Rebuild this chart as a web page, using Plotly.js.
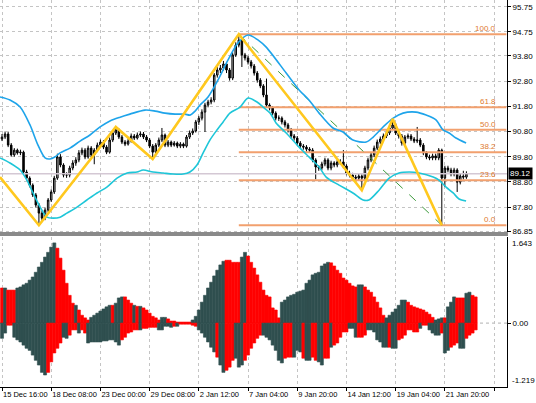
<!DOCTYPE html>
<html><head><meta charset="utf-8">
<script src="https://cdn.plot.ly/plotly-3.0.1.min.js"></script>
<style>html,body{margin:0;padding:0;background:#fff}#c{width:536px;height:403px}</style>
</head><body><div id="c"></div>
<script>
// ---- price candles (H4 bars, index 0 = 15 Dec 16:00) ----
var opens = [90.50,90.58,90.70,90.26,89.87,90.06,89.95,89.98,89.19,88.95,
88.67,88.28,87.88,87.56,87.36,87.68,88.08,88.40,88.95,89.79,
89.47,89.07,89.07,89.35,89.55,89.67,89.95,90.06,89.79,90.14,
89.87,90.06,90.26,90.38,90.18,89.98,90.46,90.74,90.86,90.58,
90.38,90.30,90.42,90.62,90.54,90.66,90.70,90.58,90.46,90.22,
89.98,90.26,90.46,90.66,90.26,90.38,90.26,90.34,90.22,90.30,
90.22,90.58,90.74,90.82,91.18,91.33,91.57,91.85,91.97,92.05,
93.04,93.24,93.32,93.48,93.24,92.92,93.84,94.23,94.43,93.84,
93.72,93.56,93.40,93.12,92.84,92.61,92.25,91.85,91.73,91.53,
91.33,91.33,91.18,91.06,90.86,90.62,90.54,90.34,90.22,90.18,
90.10,90.06,89.67,89.39,89.35,89.51,89.67,89.35,89.55,89.47,
89.59,89.59,89.43,89.15,89.07,88.99,88.95,89.03,88.95,89.35,
89.67,89.87,90.14,90.38,90.50,90.62,90.74,90.94,91.06,90.74,
90.62,90.34,90.58,90.62,90.50,90.42,90.46,90.26,89.95,89.79,
89.75,89.83,89.75,90.06,88.95,89.35,89.27,89.11,89.27,88.79,
89.03,88.99];
var closes = [90.58,90.70,90.26,89.87,90.06,89.95,89.98,89.19,88.95,88.67,
88.28,87.88,87.56,87.36,87.68,88.08,88.40,88.95,89.79,89.47,
89.07,89.07,89.35,89.55,89.67,89.95,90.06,89.79,90.14,89.87,
90.06,90.26,90.38,90.18,89.98,90.46,90.74,90.86,90.58,90.38,
90.30,90.42,90.62,90.54,90.66,90.70,90.58,90.46,90.22,89.98,
90.26,90.46,90.66,90.26,90.38,90.26,90.34,90.22,90.30,90.22,
90.58,90.74,90.82,91.18,91.33,91.57,91.85,91.97,92.05,93.04,
93.24,93.32,93.48,93.24,92.92,93.84,94.23,94.43,93.84,93.72,
93.56,93.40,93.12,92.84,92.61,92.25,91.85,91.73,91.53,91.33,
91.33,91.18,91.06,90.86,90.62,90.54,90.34,90.22,90.18,90.10,
90.06,89.67,89.39,89.35,89.51,89.67,89.35,89.55,89.47,89.59,
89.59,89.43,89.15,89.07,88.99,88.95,89.03,88.95,89.35,89.67,
89.87,90.14,90.38,90.50,90.62,90.74,90.94,91.06,90.74,90.62,
90.34,90.58,90.62,90.50,90.42,90.46,90.26,89.95,89.79,89.75,
89.83,89.75,90.06,88.95,89.35,89.27,89.11,89.27,88.79,89.03,
88.99,89.12];
var highs = [90.70,90.80,90.78,90.34,90.14,90.12,90.08,90.04,89.28,89.02,
88.74,88.36,87.96,87.66,87.78,88.16,88.50,89.04,89.92,89.90,
89.54,89.18,89.44,89.66,89.78,90.06,90.16,90.14,90.24,90.22,
90.14,90.36,90.48,90.46,90.26,90.56,90.84,90.98,90.92,90.66,
90.46,90.52,90.72,90.70,90.76,90.80,90.78,90.66,90.54,90.30,
90.34,90.56,90.94,90.72,90.46,90.44,90.42,90.40,90.38,90.36,
90.66,90.84,90.92,91.26,91.42,91.68,91.94,92.06,92.16,93.12,
93.36,93.44,93.60,93.56,93.32,93.94,94.34,94.66,94.50,93.92,
93.80,93.64,93.48,93.20,92.92,92.68,92.90,91.92,91.80,91.60,
91.44,91.40,91.26,91.14,90.94,90.70,90.62,90.42,90.30,90.26,
90.18,90.14,89.74,89.46,89.60,89.76,89.74,89.64,89.62,89.68,
89.70,90.06,89.50,89.24,89.16,89.08,89.12,89.10,89.44,89.76,
89.96,90.24,90.48,90.60,90.72,90.84,91.04,91.30,91.14,90.82,
90.70,90.66,90.72,90.70,90.58,90.98,90.54,90.34,90.02,89.88,
89.92,89.92,90.14,90.12,89.44,89.44,89.36,89.36,89.34,89.12,
89.24,89.22];
var lows = [90.42,90.50,90.18,89.80,89.80,89.88,89.86,89.12,88.86,88.58,
88.20,87.78,87.08,87.22,87.28,87.60,88.00,88.32,88.88,89.38,
88.98,88.96,88.98,89.26,89.44,89.58,89.86,89.70,89.72,89.78,
89.50,89.98,90.18,90.10,89.90,89.92,90.38,90.66,90.50,90.30,
90.22,90.24,90.36,90.46,90.48,90.58,90.50,90.38,90.14,89.71,
89.90,90.18,90.38,90.18,90.18,90.18,90.20,90.14,90.14,90.14,
90.16,90.50,90.66,90.76,91.06,91.24,90.78,91.76,91.88,91.96,
92.94,93.12,93.22,93.12,92.82,92.84,93.76,94.14,93.36,93.62,
93.46,93.30,93.02,92.74,92.52,92.16,91.76,91.64,91.44,91.24,
91.22,91.08,90.96,90.76,90.52,90.44,90.24,90.14,90.08,90.00,
89.96,89.58,88.90,89.24,89.26,89.42,89.26,89.26,89.38,89.38,
89.48,89.34,89.06,88.98,88.90,88.86,88.86,88.47,88.86,89.26,
89.58,89.78,90.06,90.30,90.42,90.54,90.66,90.86,90.66,90.52,
90.24,90.26,90.50,90.42,90.34,90.34,90.18,89.86,89.70,89.66,
89.66,89.66,89.66,87.08,88.60,89.18,89.02,89.02,88.40,88.70,
88.90,88.92];
var lastPrice = 89.12;

// ---- bands (bar index, price) ----
var bandUpIdx = [-0.65,2.6,5.9,9.1,11.7,14.0,15.6,17.2,18.9,22.1,25.4,28.6,31.9,35.1,38.4,41.6,46.5,49.8,53.0,56.3,59.5,61.1,62.8,64.4,67.0,70.2,73.5,76.7,80.0,83.3,85.9,92.4,96.6,99.8,103.1,107.6,110.9,114.1,118.4,120.7,123.9,127.2,130.4,134.6,137.9,141.1,143.4,145.4,147.6,150.9];
var bandUp = [92.17,92.05,91.77,91.06,90.26,89.75,89.71,89.79,89.95,90.14,90.42,90.66,90.98,91.22,91.37,91.49,91.65,91.61,91.53,91.49,91.49,91.45,91.61,91.85,92.17,92.84,93.64,94.31,94.63,94.43,94.15,93.12,92.45,92.05,91.53,90.94,90.78,90.46,90.38,90.58,90.98,91.33,91.53,91.57,91.45,91.26,90.86,90.74,90.54,90.34];
var bandLoIdx = [-0.65,2.6,5.9,8.1,10.1,12.4,14.6,16.6,18.9,21.1,24.4,27.6,30.9,34.1,37.4,40.7,43.9,45.9,49.1,52.4,55.6,58.9,61.1,63.4,65.4,67.6,69.9,71.9,74.1,77.4,80.0,82.9,84.9,87.2,89.1,92.4,96.6,99.8,103.1,105.4,109.6,114.1,117.4,119.3,122.6,125.9,129.1,132.4,135.6,140.2,142.1,144.4,146.7,148.6,150.9];
var bandLo = [89.75,89.55,89.27,88.87,88.36,87.80,87.40,87.36,87.40,87.56,87.80,88.08,88.36,88.59,88.95,89.15,89.19,89.27,89.19,89.15,89.11,89.11,89.19,89.47,89.95,90.46,90.86,91.18,91.53,91.77,92.13,91.97,91.77,91.53,91.14,90.74,90.18,89.79,89.39,88.99,88.67,88.36,88.08,88.08,88.47,88.95,89.15,89.19,89.15,88.99,88.87,88.59,88.36,88.12,88.04];

// ---- zigzag ----
var zigIdx = [-0.65,12,37,49,77,117,127,143];
var zigPrice = [88.99,87.08,90.98,89.71,94.66,88.47,91.30,87.08];

// ---- fibonacci ----
var fibFromIdx = 77, fibHigh = 94.66, fibToIdx = 143, fibLow = 87.08;
var fibLevels = [0, 23.6, 38.2, 50, 61.8, 100];
var fibLabels = ["0.0","23.6","38.2","50.0","61.8","100.0"];

// ---- oscillator histogram ----
var oscPos = [0.67,0.67,0.63,0.63,0.63,0.67,0.69,0.73,0.76,0.82,
0.88,0.97,1.07,1.16,1.26,1.35,1.45,1.53,1.43,1.24,
1.01,0.76,0.53,0.38,0.34,0.25,0.15,0.10,0.06,0.11,
0.15,0.19,0.23,0.27,0.31,0.34,0.34,0.38,0.48,0.50,
0.50,0.44,0.38,0.34,0.32,0.32,0.29,0.25,0.19,0.13,
0.10,0.06,0.11,0.11,0.08,0.04,0.04,0.02,0.02,0.02,
0.02,0.02,0.06,0.13,0.25,0.40,0.53,0.67,0.78,0.90,
1.01,1.11,1.18,1.20,1.20,1.16,1.16,1.16,1.26,1.35,
1.28,1.16,1.05,0.92,0.78,0.63,0.53,0.50,0.29,0.25,
0.10,0.40,0.44,0.50,0.53,0.55,0.59,0.61,0.63,0.76,
0.82,0.92,0.95,0.97,1.09,1.13,1.16,1.15,1.09,1.01,
0.95,0.86,0.82,0.76,0.71,0.69,0.73,0.73,0.69,0.63,
0.59,0.50,0.40,0.29,0.15,0.10,0.15,0.21,0.27,0.34,
0.44,0.44,0.40,0.34,0.31,0.29,0.27,0.25,0.21,0.17,
0.11,0.06,0.08,0.10,0.10,0.31,0.40,0.50,0.48,0.48,
0.48,0.57,0.59,0.53,0.50];
var oscNeg = [-0.29,-0.19,-0.04,-0.04,-0.27,-0.32,-0.36,-0.42,-0.48,-0.52,
-0.61,-0.71,-0.80,-0.94,-0.99,-0.94,-0.74,-0.57,-0.48,-0.38,
-0.27,-0.29,-0.23,-0.13,-0.13,-0.19,-0.13,-0.19,-0.38,-0.36,
-0.36,-0.36,-0.36,-0.34,-0.34,-0.32,-0.32,-0.36,-0.42,-0.32,
-0.27,-0.19,-0.17,-0.13,-0.13,-0.13,-0.10,-0.10,-0.08,-0.08,
-0.08,-0.13,-0.13,-0.06,-0.06,-0.08,-0.06,-0.06,-0.02,-0.02,
-0.02,-0.02,-0.04,-0.06,-0.13,-0.19,-0.27,-0.36,-0.46,-0.55,
-0.65,-0.80,-0.94,-0.90,-0.84,-0.71,-0.67,-0.84,-0.80,-0.71,
-0.61,-0.48,-0.38,-0.29,-0.23,-0.23,-0.27,-0.32,-0.42,-0.52,
-0.71,-0.76,-0.67,-0.65,-0.65,-0.65,-0.52,-0.55,-0.67,-0.71,
-0.71,-0.65,-0.71,-0.74,-0.80,-0.67,-0.67,-0.46,-0.42,-0.38,
-0.27,-0.17,-0.17,-0.10,-0.10,-0.27,-0.27,-0.27,-0.23,-0.13,
-0.13,-0.17,-0.32,-0.36,-0.46,-0.46,-0.46,-0.48,-0.48,-0.32,
-0.29,-0.23,-0.13,-0.13,-0.17,-0.17,-0.10,-0.04,-0.04,-0.13,
-0.19,-0.23,-0.23,-0.19,-0.57,-0.52,-0.46,-0.42,-0.38,-0.48,
-0.48,-0.29,-0.23,-0.19,-0.13];
// state of each bar: R = red, D = dark
var oscPosState = ("RDRRRDDDDD"+"DDDDDDDDRR"+"RRRRDRRRRD"+"DDDDDDRDDD"+"RRRDRDRRRR"+
"RRDDRRRRRR"+"RRDDDDDDDD"+"DDDRRRRRDD"+"RRRRRRRRRR"+"RDDDDDDDDD"+
"DDDDDDDRRR"+"RRRRRRDDRR"+"RRRRRDDDDD"+"DDRRRRRRRR"+"RDDDRDDDRR"+"RDDRR").split("");
var oscNegState = ("DDRRDDDDDD"+"DDDDDRRRRR"+"DDRRRDRRDD"+"DDDDDDDDDR"+"RRRRRDRRRR"+
"RDDDDDRDRR"+"RRRRDDDDDD"+"RDDRRRDDDR"+"RRRRRDDDDD"+"DDRRRDDDRD"+
"DRRDDRRDRR"+"RRRDDDRRRD"+"DDDDDDRDDR"+"RRRRRRDRRD"+"DDDRDDRRRD"+"DRRRR").split("");
var oscMax = 1.643, oscMin = -1.219;

// ---- axes labels ----
var timeTickIdx = [0,16,32,48,64,80,96,112,128,144,160];
var timeTickText = ["15 Dec 16:00","18 Dec 08:00","23 Dec 00:00","29 Dec 08:00","2 Jan 12:00","7 Jan 04:00","9 Jan 20:00","14 Jan 12:00","19 Jan 04:00","21 Jan 20:00",""];
var priceTicks = [95.75,94.75,93.80,92.80,91.80,90.80,89.80,88.80,87.80,86.85];
var priceTickText = ["95.75","94.75","93.80","92.80","91.80","90.80","89.80","88.80","87.80","86.85"];

// ---------------- build ----------------
var xMin = -0.65, xMax = 164.2;
var FONT = "Liberation Sans, Arial, sans-serif";
var RED = "#ff0000", DARK = "#2f4f4f";
function idx(n){var a=[];for(var i=0;i<n;i++)a.push(i);return a;}
var barIdx = idx(closes.length);
var oscIdx = idx(oscPos.length);
var traces = [];

traces.push({type:"scatter", mode:"lines", x:[xMin,xMax], y:[lastPrice,lastPrice],
  line:{color:"#d4c8d4", width:1.5}, xaxis:"x", yaxis:"y", hoverinfo:"skip"});

fibLevels.forEach(function(l){
  var p = fibLow + (fibHigh-fibLow)*l/100;
  traces.push({type:"scatter", mode:"lines", x:[fibFromIdx,xMax-0.2], y:[p,p],
    line:{color:"#f2a06e", width:2}, xaxis:"x", yaxis:"y"});
});
traces.push({type:"scatter", mode:"lines", x:[fibFromIdx,fibToIdx], y:[fibHigh,fibLow],
  line:{color:"#3c9a3c", width:1, dash:"dash"}, xaxis:"x", yaxis:"y"});

traces.push({type:"scatter", mode:"lines", x:bandUpIdx, y:bandUp,
  line:{color:"#1ea4ea", width:1.6, shape:"spline", smoothing:0.8}, xaxis:"x", yaxis:"y"});
traces.push({type:"scatter", mode:"lines", x:bandLoIdx, y:bandLo,
  line:{color:"#1ec6d8", width:1.6, shape:"spline", smoothing:0.8}, xaxis:"x", yaxis:"y"});

traces.push({type:"candlestick", x:barIdx, open:opens, high:highs, low:lows, close:closes,
  xaxis:"x", yaxis:"y", whiskerwidth:0,
  increasing:{line:{color:"#000000", width:1}, fillcolor:"#b8b8b8"},
  decreasing:{line:{color:"#000000", width:1}, fillcolor:"#000000"}});

traces.push({type:"scatter", mode:"lines", x:zigIdx, y:zigPrice,
  line:{color:"#ffc81e", width:2.6}, xaxis:"x", yaxis:"y"});

function colors(states){return states.map(function(s){return s==="R"?RED:DARK;});}
var posCol = colors(oscPosState), negCol = colors(oscNegState);
traces.push({type:"bar", x:oscIdx, y:oscPos, width:1, marker:{color:posCol, line:{width:0.6, color:posCol}},
  xaxis:"x", yaxis:"y2"});
traces.push({type:"bar", x:oscIdx, y:oscNeg, width:1, marker:{color:negCol, line:{width:0.6, color:negCol}},
  xaxis:"x", yaxis:"y2"});

var annotations = [];
fibLevels.forEach(function(l,i){
  var p = fibLow + (fibHigh-fibLow)*l/100;
  annotations.push({x:161.2, y:p, xref:"x", yref:"y", text:fibLabels[i], showarrow:false,
    xanchor:"right", yanchor:"bottom", yshift:-1, font:{family:FONT, size:8, color:"#e07a30"}});
});
annotations.push({x:1, xref:"paper", xanchor:"left", xshift:1, y:lastPrice, yref:"y", yanchor:"middle",
  text:"89.12", showarrow:false, bgcolor:"#000000", borderpad:1,
  font:{family:FONT, size:8, color:"#ffffff"}});
annotations.push({x:1, xref:"paper", xanchor:"left", xshift:3, y:oscMax, yref:"y2", yanchor:"top",
  text:String(oscMax), showarrow:false, font:{family:FONT, size:8, color:"#000"}});
annotations.push({x:1, xref:"paper", xanchor:"left", xshift:3, y:oscMin, yref:"y2", yanchor:"bottom",
  text:String(oscMin), showarrow:false, font:{family:FONT, size:8, color:"#000"}});

var layout = {
  width:536, height:403, margin:{l:0, r:29, t:0, b:16, pad:0},
  paper_bgcolor:"#ffffff", plot_bgcolor:"#ffffff", showlegend:false, barmode:"overlay",
  font:{family:FONT, size:8, color:"#000"},
  xaxis:{range:[xMin,xMax], domain:[0,1], anchor:"y2", tickmode:"array", tickvals:timeTickIdx, ticktext:timeTickText,
    ticks:"outside", ticklen:3, tickcolor:"#000", showline:true, linecolor:"#000", linewidth:1,
    showgrid:true, gridcolor:"#c4c4c4", griddash:"dot", gridwidth:1, zeroline:false,
    tickangle:0, ticklabelposition:"outside right", tickfont:{family:FONT, size:7.5, color:"#000"},
    rangeslider:{visible:false}, fixedrange:true},
  yaxis:{domain:[0.4005,1], range:[86.81,96.02], anchor:"x", side:"right", tickmode:"array",
    tickvals:priceTicks, ticktext:priceTickText, ticks:"outside", ticklen:3, tickcolor:"#000",
    showline:true, linecolor:"#000", linewidth:1, showgrid:true, gridcolor:"#c4c4c4", griddash:"dot",
    zeroline:false, tickfont:{family:FONT, size:8, color:"#000"}, fixedrange:true},
  yaxis2:{domain:[0,0.3876], range:[oscMin,oscMax], anchor:"x", side:"right", tickmode:"array",
    tickvals:[0], ticktext:["0.00"], ticks:"outside", ticklen:3, tickcolor:"#000",
    showline:true, linecolor:"#000", linewidth:1, showgrid:false, zeroline:false,
    tickfont:{family:FONT, size:8, color:"#000"}, fixedrange:true},
  shapes:[
    {type:"line", xref:"x", yref:"y2", x0:xMin, x1:xMax, y0:0, y1:0, layer:"below",
      line:{color:"#b0b0b0", width:1, dash:"dot"}},
    {type:"rect", xref:"paper", yref:"paper", x0:0, x1:1.002, y0:0.3902, y1:0.4005,
      fillcolor:"#8a8a8a", line:{width:0}, layer:"above"}
  ],
  annotations:annotations
};
Plotly.newPlot("c", traces, layout, {staticPlot:true, displayModeBar:false});
</script></body></html>
